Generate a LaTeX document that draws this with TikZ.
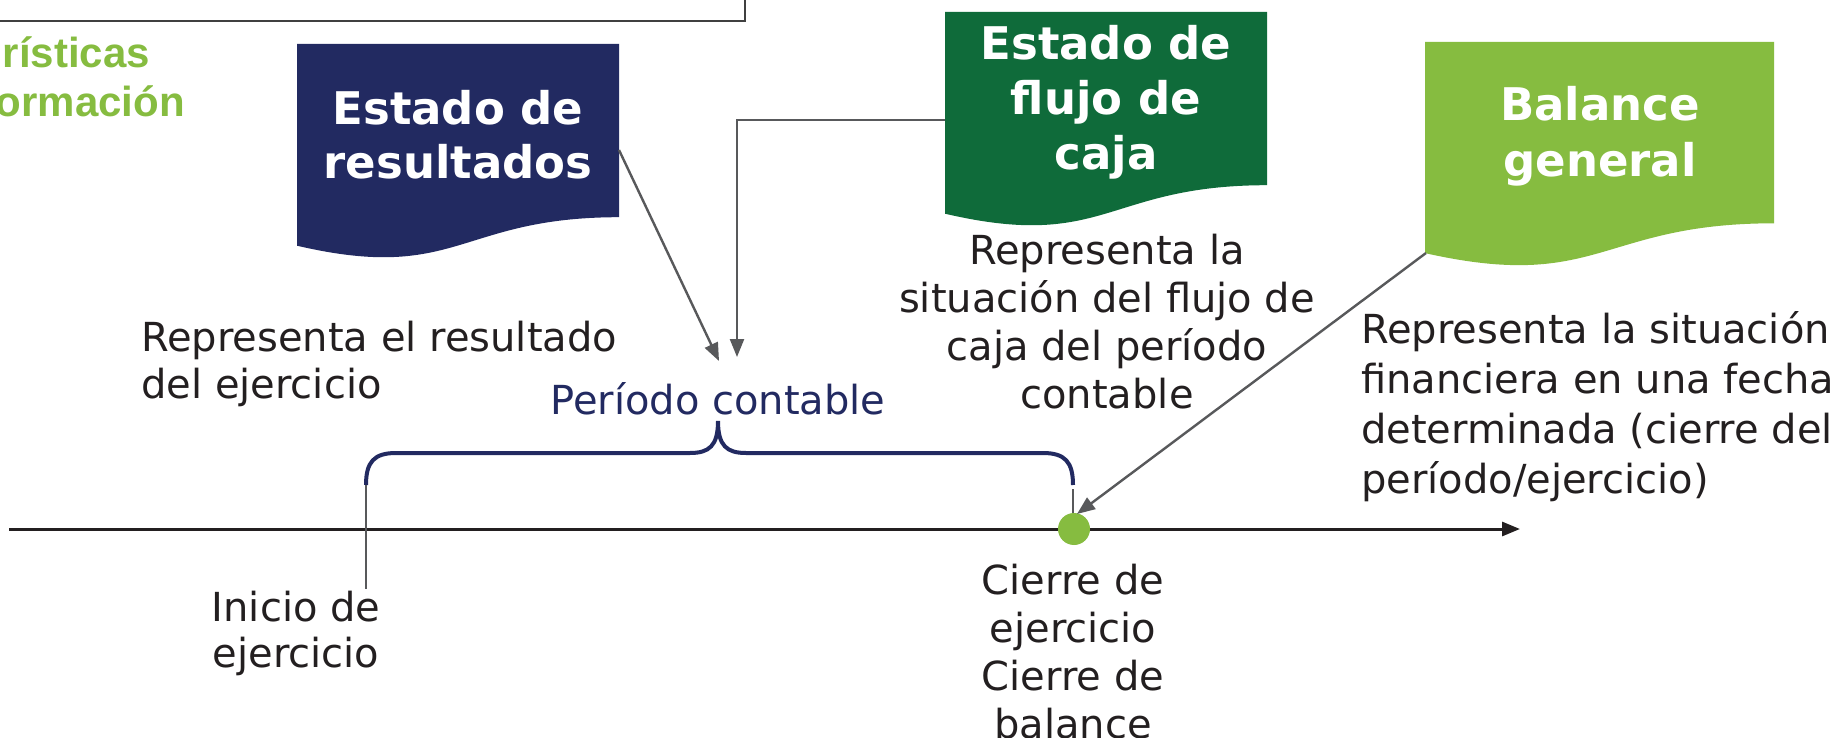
\documentclass[tikz,border=0pt]{standalone}
\usepackage{fontspec}
\setmainfont{DejaVu Sans}
\newfontfamily\greenfont{Liberation Sans}
\usetikzlibrary{arrows.meta}
\definecolor{navy}{HTML}{222A61}
\definecolor{dkgreen}{HTML}{0F6B3A}
\definecolor{ltgreen}{HTML}{86BC40}
\definecolor{arrowgray}{HTML}{58595B}
\definecolor{ink}{HTML}{231F20}
\begin{document}
\begin{tikzpicture}[x=1pt,y=-1pt,
  body/.style={inner sep=0pt, text=ink, font=\fontsize{40}{48}\selectfont},
  title/.style={inner sep=0pt, text=white, font=\bfseries\fontsize{45}{54}\selectfont, align=center},
  conn/.style={draw=arrowgray, line width=2.4pt, -{Triangle[length=18pt,width=14pt]}},
  tick/.style={draw=arrowgray, line width=2pt},
  greentxt/.style={anchor=base east, inner sep=0pt, text=ltgreen, font=\greenfont\bfseries\fontsize{42}{48}\selectfont},
]
\useasboundingbox (0,0) rectangle (1840,738);
\fill[white] (0,0) rectangle (1840,738);

% top framed box (cut off)
\draw[line width=2pt, draw=black!75] (-20,-20) rectangle (745,21);

% partial green heading
\node[greentxt] (g1) at (150,68) {rísticas};
\node[greentxt] (g2) at (185,117) {ormación};

% document shapes
\fill[navy] (297,44) -- (619,44) -- (619,217.2) .. controls (458,217.2) and (458,283.2) .. (297,245.7) -- cycle;
\node[title] (res) at (458,135) {Estado de\\resultados};
\fill[dkgreen] (945,12) -- (1267,12) -- (1267,185.2) .. controls (1106,185.2) and (1106,251.2) .. (945,213.7) -- cycle;
\node[title, font=\bfseries\fontsize{45}{55}\selectfont] (flu) at (1106,102) {Estado de\\flujo de\\caja};
\fill[ltgreen] (1425,42) -- (1774,42) -- (1774,223.3) .. controls (1599.5,223.3) and (1599.5,292.3) .. (1425,253.1) -- cycle;
\node[title, font=\bfseries\fontsize{45}{56}\selectfont] (bal) at (1600,136) {Balance\\general};

% descriptions
\node[body, anchor=west, align=left, font=\fontsize{40}{47}\selectfont] (dres) at (141,364) {Representa el resultado\\del ejercicio};
\node[body, align=center] (dflu) at (1107,322) {Representa la\\situación del flujo de\\caja del período\\contable};
\node[body, anchor=west, align=left, font=\fontsize{40}{50}\selectfont] (dbal) at (1361,407) {Representa la situación\\financiera en una fecha\\determinada (cierre del\\período/ejercicio)};
\node[body, text=navy] (per) at (718,399) {Período contable};
\node[body, align=center, font=\fontsize{40}{46}\selectfont] (ini) at (296,633) {Inicio de\\ejercicio};
\node[body, align=center] (cie) at (1073,652) {Cierre de\\ejercicio\\Cierre de\\balance};

% timeline
\coordinate (tlS) at (9,529);
\coordinate (tlE) at (1520,529);
\draw[draw=ink, line width=3pt, -{Triangle[length=18pt,width=14pt]}] (tlS) -- (tlE);

% brace
\draw[navy, line width=4pt] (366,485) .. controls (366,462) and (374,453) .. (396,453) -- (690,453)
  .. controls (709,453) and (718,446) .. (718,421) .. controls (718,446) and (727,453) .. (746,453)
  -- (1043,453) .. controls (1065,453) and (1073,462) .. (1073,485);

% ticks
\coordinate (t1a) at (366,485);
\coordinate (t1b) at (366,589);
\draw[tick] (t1a) -- (t1b);
\coordinate (t2a) at (1073,489);
\coordinate (t2b) at (1073,514);
\draw[tick] (t2a) -- (t2b);

% closing dot
\fill[ltgreen] (1074,529) circle[radius=16pt];
\coordinate (dot) at (1077,514);

% connectors
\coordinate (resR) at (619,150);
\coordinate (a1) at (719,361);
\coordinate (fluL) at (945,120);
\coordinate (a2) at (737,357);
\coordinate (balL) at (1426,253);
\draw[conn] (resR) -- (a1);
\draw[conn] (fluL) -| (a2);
\draw[conn] (balL) -- (dot);
\end{tikzpicture}
\end{document}
